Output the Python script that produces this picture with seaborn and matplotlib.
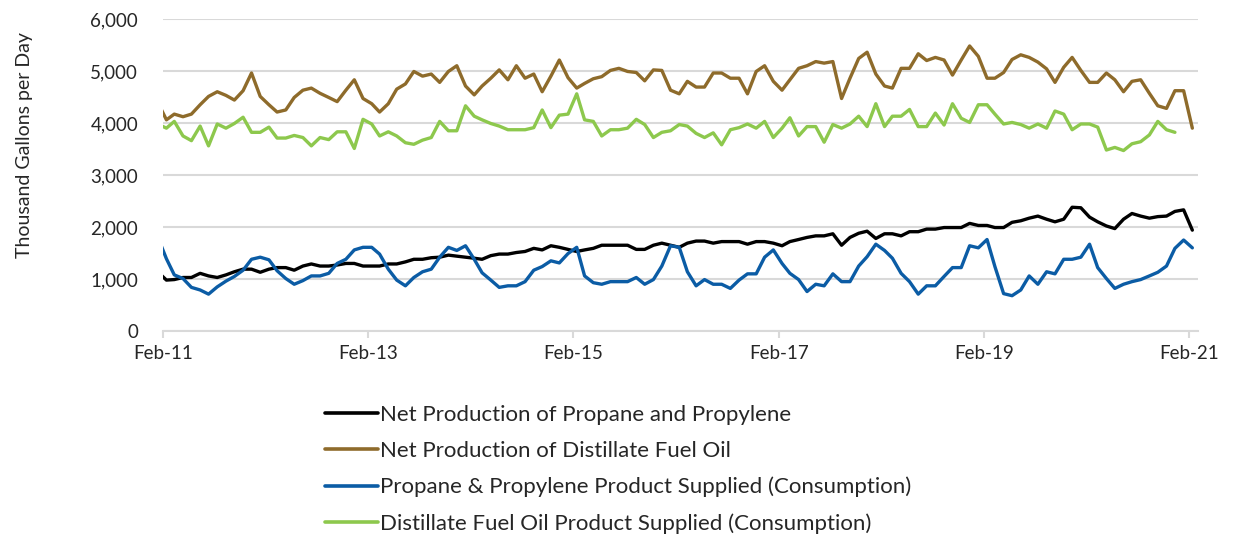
import pandas as pd
import seaborn as sns
import matplotlib.pyplot as plt
from matplotlib.ticker import FuncFormatter

# monthly values, Jan-11 .. Feb-21 (distillate consumption ends Dec-20)
months = pd.date_range("2011-01-01", "2021-02-01", freq="MS")
months_short = pd.date_range("2011-01-01", "2020-12-01", freq="MS")

propane_prod = [
    1140,
    980, 990, 1030, 1030, 1110, 1060, 1030, 1080, 1140, 1190, 1190, 1130, 1190, 1220, 1220, 1170, 1250, 1290, 1250, 1250,
    1270, 1300, 1300, 1250, 1250, 1250, 1290, 1290, 1330, 1380, 1380, 1410, 1420, 1460, 1440, 1420, 1400, 1380, 1450, 1480,
    1480, 1510, 1530, 1590, 1560, 1640, 1610, 1570, 1530, 1560, 1590, 1650, 1650, 1650, 1650, 1570, 1570, 1650, 1690, 1650,
    1610, 1690, 1730, 1730, 1690, 1720, 1720, 1720, 1670, 1720, 1720, 1690, 1640, 1720, 1760, 1800, 1830, 1830, 1870, 1650,
    1800, 1880, 1920, 1780, 1870, 1870, 1830, 1910, 1910, 1960, 1960, 1990, 1990, 1990, 2070, 2030, 2030, 1990, 1990, 2090,
    2120, 2170, 2210, 2150, 2100, 2150, 2380, 2370, 2190, 2100, 2020, 1970, 2150, 2260, 2210, 2170, 2200, 2210, 2300, 2330,
    1940,
]
distillate_prod = [
    4400,
    4060, 4170, 4120, 4170, 4350, 4510, 4600, 4530, 4440, 4620, 4960, 4510, 4350, 4210, 4250, 4490, 4630, 4670, 4570, 4490,
    4410, 4630, 4830, 4470, 4370, 4210, 4370, 4650, 4750, 4990, 4900, 4940, 4780, 4990, 5100, 4710, 4540, 4710, 4860, 5020,
    4830, 5100, 4860, 4940, 4600, 4900, 5210, 4870, 4670, 4760, 4850, 4890, 5010, 5050, 4990, 4970, 4810, 5020, 5010, 4630,
    4560, 4800, 4690, 4690, 4960, 4960, 4860, 4860, 4560, 4990, 5100, 4800, 4630, 4830, 5050, 5100, 5180, 5150, 5180, 4470,
    4860, 5240, 5360, 4940, 4710, 4670, 5050, 5050, 5330, 5200, 5260, 5210, 4920, 5210, 5480, 5280, 4860, 4860, 4970, 5220,
    5310, 5260, 5170, 5040, 4780, 5070, 5260, 5010, 4780, 4780, 4960, 4830, 4600, 4800, 4830, 4570, 4330, 4280, 4620, 4620,
    3900,
]
propane_use = [
    1810,
    1390, 1080, 1010, 840, 790, 710, 850, 960, 1050, 1170, 1380, 1420, 1370, 1160, 1010, 900, 970, 1060, 1060, 1110,
    1300, 1380, 1560, 1610, 1610, 1480, 1190, 980, 870, 1030, 1140, 1190, 1420, 1610, 1550, 1640, 1380, 1120, 980, 840,
    870, 870, 950, 1170, 1240, 1350, 1310, 1490, 1610, 1060, 930, 900, 950, 950, 950, 1030, 900, 990, 1250, 1640,
    1610, 1140, 870, 990, 900, 900, 820, 980, 1100, 1100, 1420, 1560, 1300, 1110, 990, 760, 900, 870, 1100, 950,
    950, 1250, 1430, 1670, 1550, 1400, 1110, 950, 710, 870, 870, 1050, 1220, 1220, 1640, 1600, 1760, 1240, 720, 680,
    790, 1060, 900, 1140, 1100, 1380, 1380, 1420, 1670, 1220, 1010, 820, 900, 950, 990, 1060, 1130, 1250, 1590, 1750,
    1600,
]
distillate_use = [
    3980,
    3900, 4030, 3750, 3660, 3940, 3560, 3980, 3900, 3990, 4110, 3820, 3820, 3920, 3710, 3710, 3760, 3720, 3560, 3720, 3680,
    3830, 3830, 3510, 4070, 3980, 3750, 3830, 3750, 3620, 3590, 3670, 3720, 4030, 3850, 3850, 4330, 4130, 4060, 3990, 3940,
    3870, 3870, 3870, 3910, 4250, 3910, 4150, 4170, 4560, 4060, 4030, 3750, 3870, 3870, 3900, 4070, 3970, 3720, 3820, 3850,
    3970, 3940, 3800, 3720, 3810, 3580, 3870, 3910, 3980, 3900, 4030, 3720, 3900, 4100, 3750, 3930, 3930, 3630, 3970, 3900,
    3980, 4130, 3930, 4370, 3930, 4130, 4130, 4260, 3930, 3930, 4190, 3960, 4370, 4090, 4010, 4350, 4350, 4170, 3980, 4010,
    3970, 3900, 3980, 3900, 4230, 4170, 3870, 3980, 3980, 3920, 3480, 3530, 3470, 3600, 3640, 3770, 4030, 3870, 3820,
]

labels = [
    "Net Production of Propane and Propylene",
    "Net Production of Distillate Fuel Oil",
    "Propane & Propylene Product Supplied (Consumption)",
    "Distillate Fuel Oil Product Supplied (Consumption)",
]
colors = ["#000000", "#8e6b2b", "#0b5ca5", "#8dc84d"]
tick_years = ["11", "13", "15", "17", "19", "21"]

sns.set_theme(style="white")
plt.rcParams["font.family"] = ["Lato", "DejaVu Sans"]

fig = plt.figure(figsize=(12.39, 5.34), dpi=100)
ax = fig.add_axes([0.1316, 0.380, 0.8355, 0.5846])

for name, dates, vals, col in zip(labels,
                                  [months, months, months, months_short],
                                  [propane_prod, distillate_prod, propane_use, distillate_use],
                                  colors):
    # monthly points sit a little past the start of each month
    df = pd.DataFrame({"date": dates + pd.Timedelta(days=12), "value": vals})
    sns.lineplot(data=df, x="date", y="value", color=col, linewidth=2.4,
                 label=name, ax=ax)

ax.set_ylim(0, 6000)
ax.set_xlim(pd.Timestamp("2011-02-01"), pd.Timestamp("2021-03-06"))
ax.set_yticks(range(0, 6001, 1000))
ax.yaxis.set_major_formatter(FuncFormatter(lambda v, p: f"{v:,.0f}"))
ax.set_xticks([pd.Timestamp(f"20{y}-02-01") for y in tick_years])
ax.set_xticklabels([f"Feb-{y}" for y in tick_years])

ax.set_xlabel("")
ax.set_ylabel("Thousand Gallons per Day", fontsize=14)
ax.yaxis.set_label_coords(-0.126, 0.596)

ax.yaxis.grid(True, color="#d9d9d9", linewidth=1.5)
ax.xaxis.grid(False)
for s in ["left", "top", "right"]:
    ax.spines[s].set_visible(False)
ax.spines["bottom"].set_color("#d9d9d9")
ax.spines["bottom"].set_linewidth(1.5)
ax.tick_params(axis="x", length=5, width=1.5, color="#d9d9d9", direction="out",
               labelsize=13.5, pad=5, bottom=True)
ax.tick_params(axis="y", length=0, labelsize=13.5, pad=18)

handles, names = ax.get_legend_handles_labels()
ax.get_legend().remove()
leg = fig.legend(handles, names, loc="upper left", bbox_to_anchor=(0.262, 0.242),
                 frameon=False, fontsize=16, handlelength=2.4, handletextpad=0.1,
                 labelspacing=0.72, borderaxespad=0, borderpad=0)
for h in leg.get_lines():
    h.set_linewidth(2.6)

fig.savefig("out.png", dpi=100)
